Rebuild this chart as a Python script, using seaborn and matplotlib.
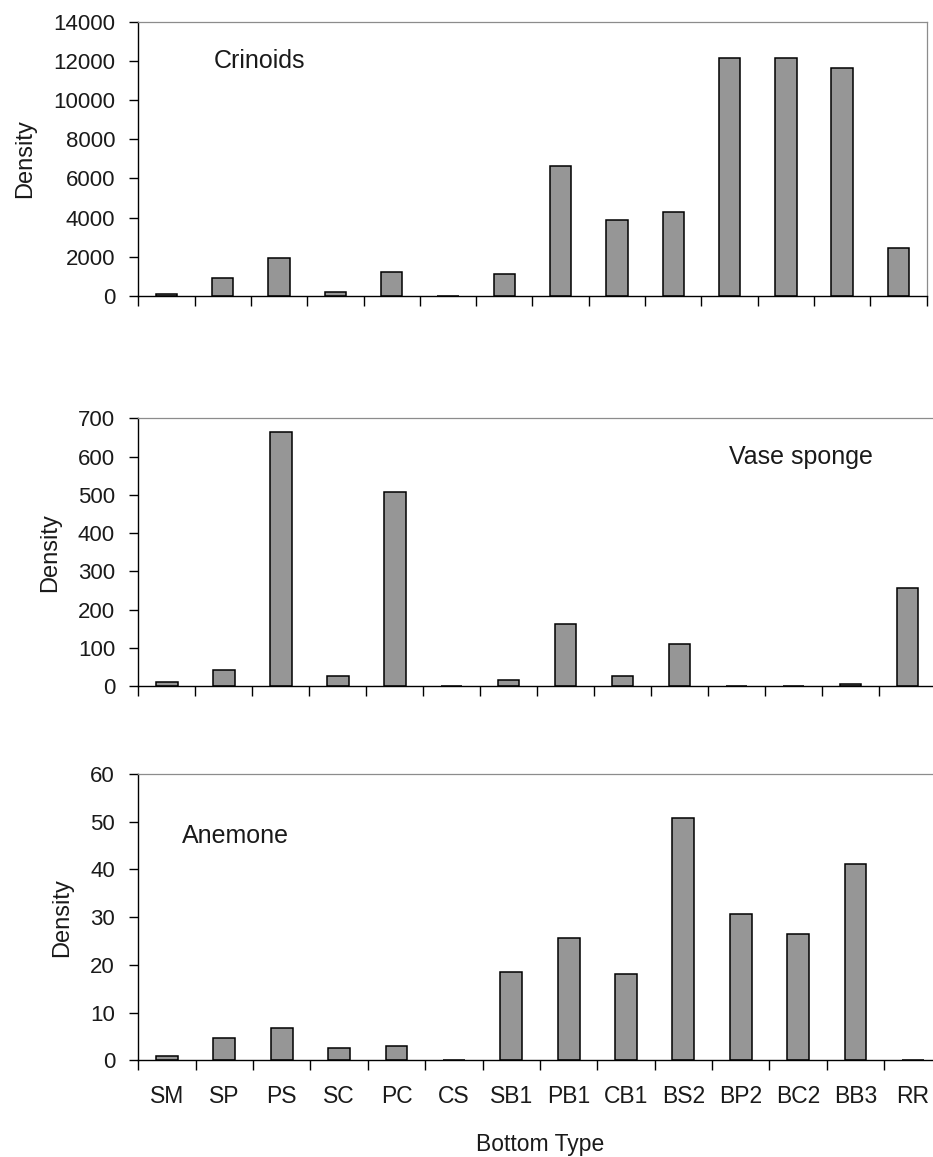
import numpy as np
import pandas as pd
import matplotlib
matplotlib.use('Agg')
import matplotlib.pyplot as plt
import seaborn as sns

bottom_types = ['SM', 'SP', 'PS', 'SC', 'PC', 'CS', 'SB1', 'PB1', 'CB1',
                'BS2', 'BP2', 'BC2', 'BB3', 'RR']
crinoids = [100, 920, 1940, 190, 1210, 0, 1110, 6650, 3870, 4280,
            12170, 12170, 11660, 2440]
vase_sponge = [11, 42, 664, 27, 507, 0, 16, 163, 27, 110, 0, 0, 5, 257]
anemone = [0.8, 4.6, 6.7, 2.5, 3.0, 0, 18.4, 25.6, 18.0, 50.7,
           30.7, 26.5, 41.1, 0]

sns.set_style('white')
plt.rcParams['font.family'] = ['Liberation Sans', 'DejaVu Sans']

fig = plt.figure(figsize=(9.33, 11.57), dpi=100)

# name, values, axes rect, ymax, ystep, label position (axes fraction)
panels = [
    ('Crinoids', crinoids, [0.1482, 0.7444, 0.845, 0.2366], 14000, 2000, (0.096, 0.857)),
    ('Vase sponge', vase_sponge, [0.1482, 0.4068, 0.855, 0.2316], 700, 100, (0.740, 0.857)),
    ('Anemone', anemone, [0.1482, 0.0836, 0.861, 0.2475], 60, 10, (0.054, 0.783)),
]

for k, (name, vals, rect, ymax, ystep, (tx, ty)) in enumerate(panels):
    ax = fig.add_axes(rect)
    df = pd.DataFrame({'type': bottom_types, 'density': vals})
    sns.barplot(data=df, x='type', y='density', order=bottom_types,
                color='#969696', saturation=1, edgecolor='black',
                linewidth=1.1, width=0.38, ax=ax)
    ax.set_xlim(-0.5, len(bottom_types) - 0.5)
    ax.set_ylim(0, ymax)
    ax.set_yticks(np.arange(0, ymax + 1, ystep))
    ax.tick_params(axis='y', left=True, length=6.7, width=1.0, pad=10,
                   labelsize=16, color='black', labelcolor='#1a1a1a')

    last = k == len(panels) - 1
    ax.set_xticks(range(len(bottom_types)))
    ax.set_xticklabels(bottom_types if last else [''] * len(bottom_types))
    ax.set_xticks(np.arange(-0.5, len(bottom_types), 1), minor=True)
    ax.tick_params(axis='x', which='major', bottom=True, length=0, pad=18,
                   labelsize=16.5, labelcolor='#1a1a1a')
    ax.tick_params(axis='x', which='minor', bottom=True, length=7, width=1.0,
                   direction='out', color='black')

    for s in ['left', 'bottom']:
        ax.spines[s].set_color('black')
        ax.spines[s].set_linewidth(1.0)
    for s in ['top', 'right']:
        ax.spines[s].set_color('#8c8c8c')
        ax.spines[s].set_linewidth(0.9)

    ax.set_ylabel('Density', fontsize=17, labelpad=12, color='#1a1a1a')
    if last:
        ax.set_xlabel('Bottom Type', fontsize=16.5, labelpad=18, color='#1a1a1a')
    else:
        ax.set_xlabel('')
    ax.text(tx, ty, name, transform=ax.transAxes, ha='left', va='center',
            fontsize=18, color='#1a1a1a')

plt.savefig('out.png', dpi=100)
